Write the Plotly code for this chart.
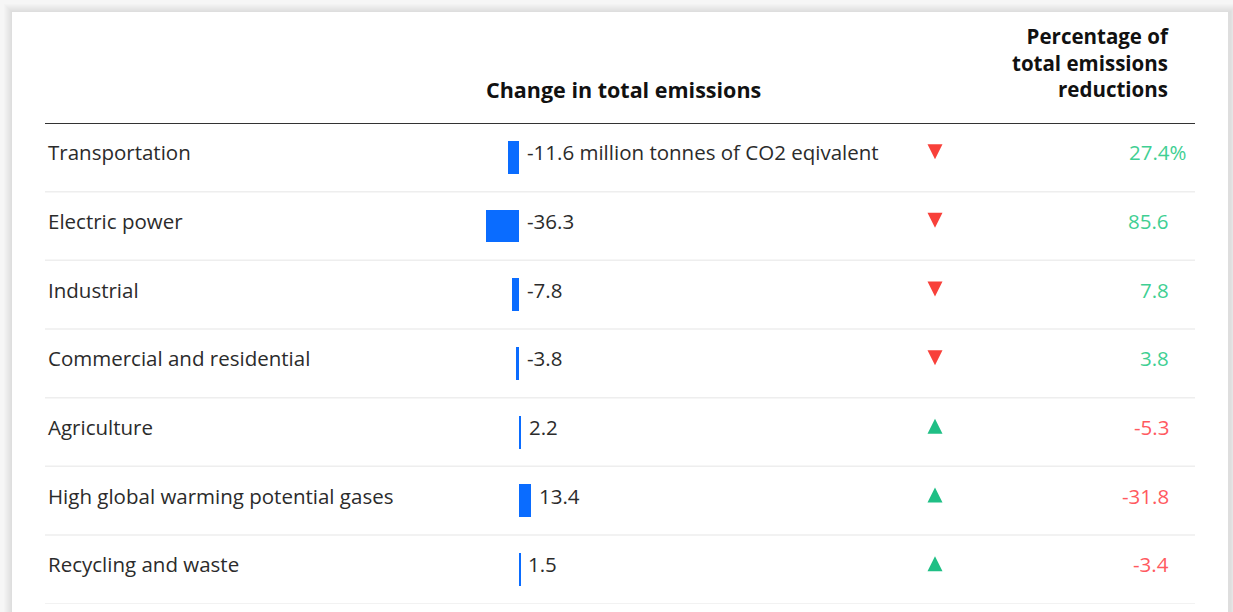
import plotly.graph_objects as go

categories = ["Transportation", "Electric power", "Industrial", "Commercial and residential",
              "Agriculture", "High global warming potential gases", "Recycling and waste"]
change = [-11.6, -36.3, -7.8, -3.8, 2.2, 13.4, 1.5]
change_labels = ["-11.6 million tonnes of CO2 eqivalent", "-36.3", "-7.8", "-3.8", "2.2", "13.4", "1.5"]
pct = [27.4, 85.6, 7.8, 3.8, -5.3, -31.8, -3.4]
pct_labels = ["27.4%", "85.6", "7.8", "3.8", "-5.3", "-31.8", "-3.4"]
header_change = "Change in total emissions"
header_pct = ["Percentage of", "total emissions", "reductions"]

W, H = 1233, 612
FONT = "Open Sans"
SZ = 20.5
BSZ = 21.5
BLUE = "#0a6cff"
RED = "#f8403a"
GREEN = "#1fbf85"
PGREEN = "#3fcf93"
PRED = "#ff5a5f"

n = len(categories)
rows = list(range(n))
top_px, row_h = 123, 68.67
zero_px, px_per_unit = 519, 0.91
TRI = 15

fig = go.Figure()

fig.add_trace(go.Bar(
    x=change, y=rows, orientation="h", width=0.48,
    marker=dict(color=BLUE, line=dict(width=0)),
    hoverinfo="skip", showlegend=False,
))

tri_sym = ["arrow-down" if v < 0 else "arrow-up" for v in change]
tri_col = [RED if v < 0 else GREEN for v in change]
tri_y = [r + ((-5.7 + TRI / 2) if v < 0 else (-5.7 - TRI / 2)) / row_h for r, v in zip(rows, change)]
fig.add_trace(go.Scatter(
    x=[935] * n, y=tri_y, xaxis="x2", mode="markers",
    marker=dict(symbol=tri_sym, color=tri_col, size=TRI, line=dict(width=0)),
    hoverinfo="skip", showlegend=False,
))

ann = []
for r, cat in zip(rows, categories):
    ann.append(dict(x=46, xref="x2", y=r, yref="y", yshift=5, text=cat, showarrow=False,
                    xanchor="left", yanchor="middle",
                    font=dict(family=FONT, size=SZ, color="#2b2b2b")))
for r, v, lab in zip(rows, change, change_labels):
    ann.append(dict(x=max(v, 0), xref="x", y=r, yref="y", yshift=5, xshift=6, text=lab,
                    showarrow=False, xanchor="left", yanchor="middle",
                    font=dict(family=FONT, size=SZ, color="#2b2b2b")))
for r, v, lab in zip(rows, pct, pct_labels):
    hang = lab.endswith("%")
    ann.append(dict(x=1189 if hang else 1171, xref="x2", y=r, yref="y", yshift=5, text=lab,
                    showarrow=False, xanchor="right", yanchor="middle",
                    font=dict(family=FONT, size=SZ, color=PGREEN if v >= 0 else PRED)))

ann.append(dict(x=623, xref="x2", y=89, yref="paper", text="<b>" + header_change + "</b>",
                showarrow=False, xanchor="center", yanchor="middle",
                font=dict(family=FONT, size=BSZ, color="#111111")))
ann.append(dict(x=1171, xref="x2", y=63, yref="paper",
                text="<br>".join("<b>" + t + "</b>" for t in header_pct),
                showarrow=False, xanchor="right", yanchor="middle", align="right",
                font=dict(family=FONT, size=BSZ - 1, color="#111111")))
for a in ann:
    if a.get("yref") == "paper":
        a["y"] = 1 - a["y"] / H

shapes = []
shadow = ["#f3f3f3", "#f0f0f0", "#ededed", "#eaeaea", "#e7e7e7", "#e4e4e4", "#e1e1e1", "#dedede"]
for i, c in enumerate(shadow):
    off = 4 + i
    shapes.append(dict(type="rect", xref="x2", yref="paper", x0=off, x1=W - (off - 8) * 0.6,
                       y0=0, y1=1 - off / H, fillcolor=c, line=dict(width=0), layer="below"))
shapes.append(dict(type="rect", xref="x2", yref="paper", x0=12, x1=1228, y0=0, y1=1 - 12 / H,
                   fillcolor="#ffffff", line=dict(width=0), layer="below"))
shapes.append(dict(type="line", xref="x2", yref="y", x0=45, x1=1195, y0=-0.5, y1=-0.5,
                   line=dict(color="#333333", width=2)))
for r in rows:
    shapes.append(dict(type="line", xref="x2", yref="y", x0=45, x1=1195, y0=r + 0.5, y1=r + 0.5,
                       line=dict(color="#eeeeee", width=1.5), layer="below"))

y_top = 1 - top_px / H
y_bot = 1 - (top_px + row_h * n) / H

fig.update_layout(
    width=W, height=H, margin=dict(l=0, r=0, t=0, b=0),
    paper_bgcolor="#f6f6f6", plot_bgcolor="rgba(0,0,0,0)",
    xaxis=dict(domain=[0, 1], range=[-zero_px / px_per_unit, (W - zero_px) / px_per_unit],
               visible=False, fixedrange=True),
    xaxis2=dict(domain=[0, 1], range=[0, W], overlaying="x", visible=False, fixedrange=True),
    yaxis=dict(domain=[y_bot, y_top], range=[n - 0.5, -0.5], visible=False, fixedrange=True),
    annotations=ann, shapes=shapes, bargap=0,
)

fig.write_html("out.html", config={"displayModeBar": False},
               post_script="document.body.style.margin='0';document.body.style.overflow='hidden';")
